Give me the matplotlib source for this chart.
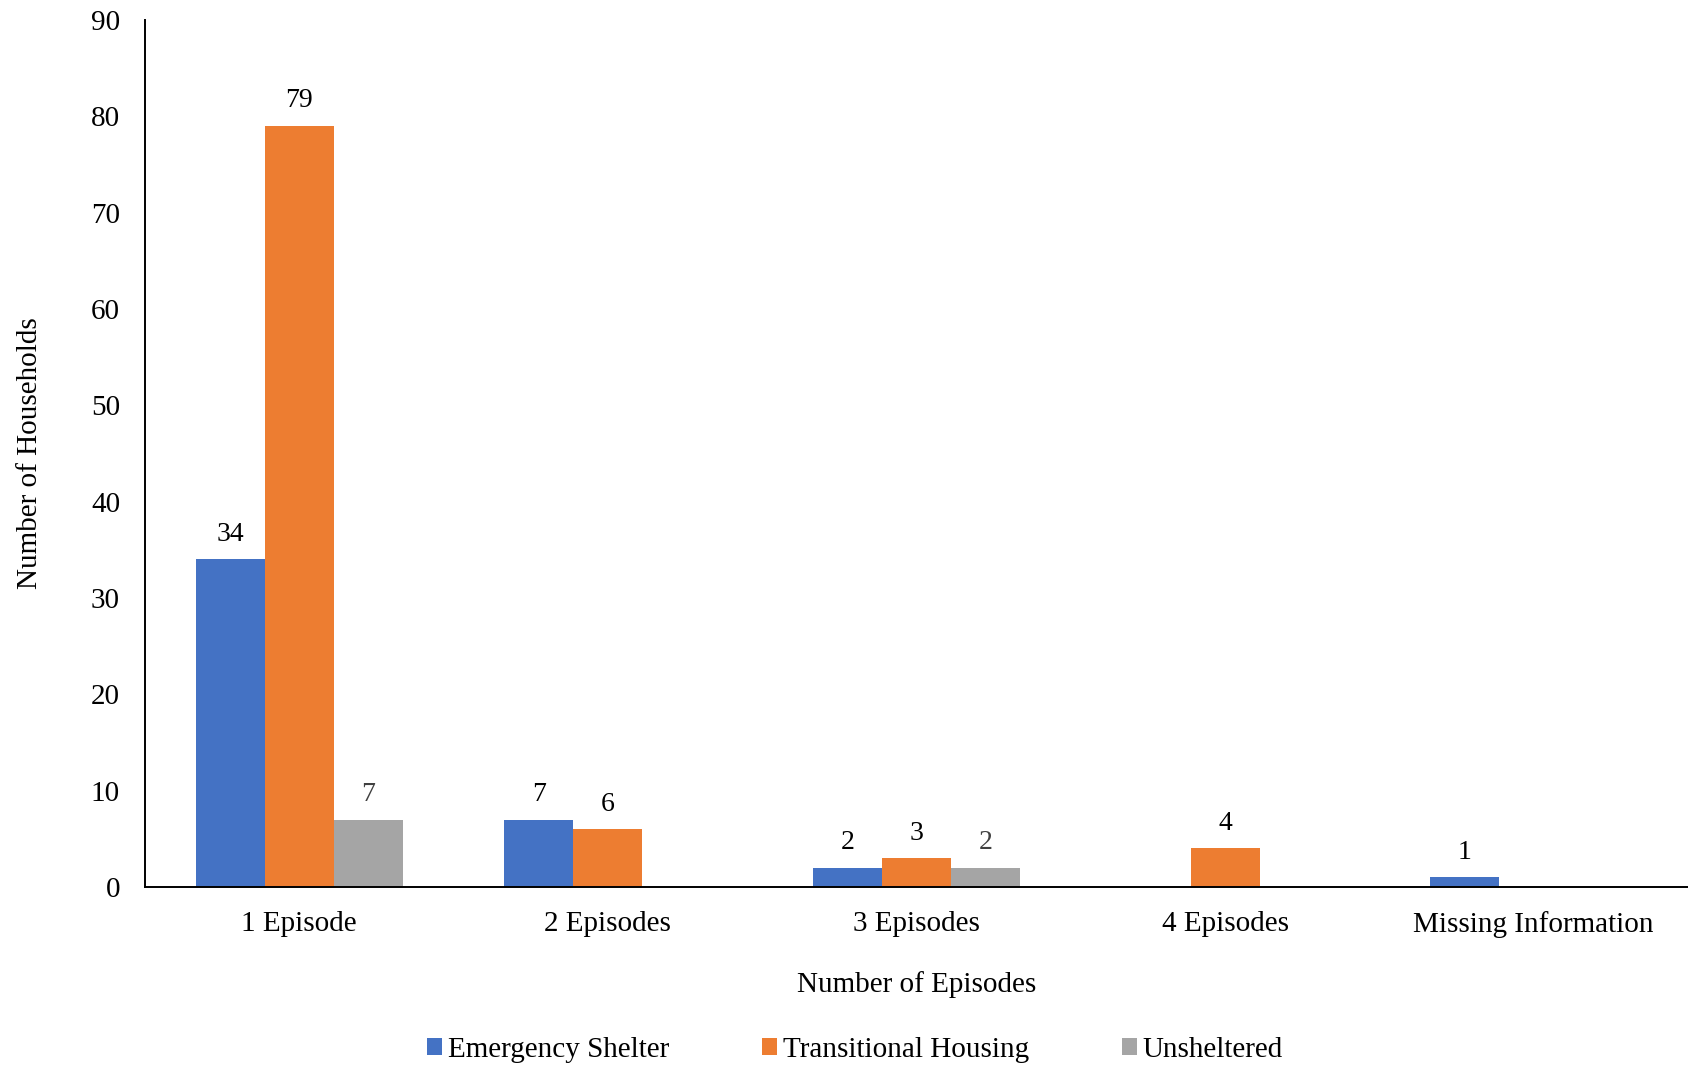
import numpy as np
import matplotlib.pyplot as plt

plt.rcParams['font.family'] = ['Liberation Serif', 'DejaVu Serif']

categories = ['1 Episode', '2 Episodes', '3 Episodes', '4 Episodes', 'Missing Information']
series_names = ['Emergency Shelter', 'Transitional Housing', 'Unsheltered']
emergency = [34, 7, 2, np.nan, 1]
transitional = [79, 6, 3, 4, np.nan]
unsheltered = [7, np.nan, 2, np.nan, np.nan]
y_ticks = [0, 10, 20, 30, 40, 50, 60, 70, 80, 90]

colors = ['#4472C4', '#ED7D31', '#A5A5A5']
label_colors = ['black', 'black', '#404040']

fig = plt.figure(figsize=(16.88, 10.66), dpi=100)
ax = fig.add_axes([145 / 1688, 1 - 887 / 1066, 1 - 145 / 1688, 867 / 1066])

x = np.arange(len(categories))
width = 0.224
all_series = [emergency, transitional, unsheltered]
for i, (vals, name) in enumerate(zip(all_series, series_names)):
    pos = x + (i - 1) * width
    v = np.array(vals, dtype=float)
    ax.bar(pos, np.nan_to_num(v), width, color=colors[i], label=name)
    for p, val in zip(pos, v):
        if not np.isnan(val):
            ax.annotate(f'{int(val)}', (p, val), xytext=(0, 9), textcoords='offset points',
                        ha='center', va='bottom', fontsize=20, color=label_colors[i])

ax.set_xlim(-0.5, len(categories) - 0.5)
ax.set_ylim(0, 90)
ax.set_yticks(y_ticks)
ax.set_xticks(x)
ax.set_xticklabels(categories)
ax.tick_params(axis='both', length=0, labelsize=21)
ax.tick_params(axis='y', pad=18)
ax.tick_params(axis='x', pad=17)
for s in ['top', 'right']:
    ax.spines[s].set_visible(False)
for s in ['left', 'bottom']:
    ax.spines[s].set_linewidth(1.4)
    ax.spines[s].set_color('black')

ax.set_ylabel('Number of Households', fontsize=21)
ax.yaxis.set_label_coords(-(145 - 43) / (1688 - 145), 0.5)

ax.set_xlabel('Number of Episodes', fontsize=21)
ax.xaxis.set_label_coords(0.5, -(971 - 887) / 867)

handles, labels = ax.get_legend_handles_labels()
fig.legend(handles, labels, loc='center', bbox_to_anchor=(855 / 1688, 1 - 1050 / 1066),
           ncol=3, frameon=False, fontsize=21, handlelength=0.5, handleheight=0.5,
           handletextpad=0.2, columnspacing=3.2)

fig.savefig('out.png', dpi=100)
